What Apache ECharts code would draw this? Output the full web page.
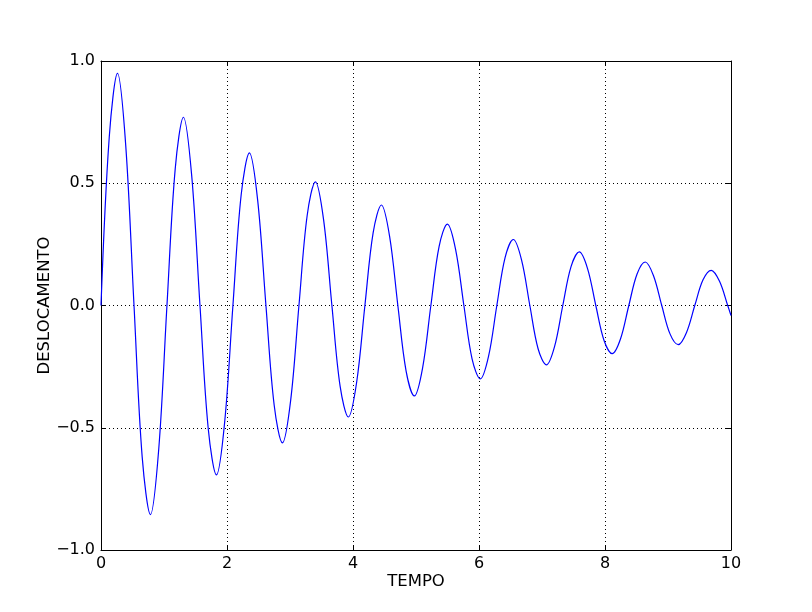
<!DOCTYPE html>
<html>
<head>
<meta charset="utf-8">
<script src="https://cdn.jsdelivr.net/npm/echarts@6/dist/echarts.min.js"></script>
<style>html,body{margin:0;padding:0;background:#fff}#c{width:812px;height:612px}</style>
</head>
<body>
<div id="c"></div>
<script>
// values (time, displacement)
const tempo = [0,0.131,0.262,0.393,0.524,0.654,0.785,0.916,1.047,1.178,1.309,1.440,1.571,1.702,1.833,1.963,2.094,2.225,2.356,2.487,2.618,2.749,2.880,3.011,3.142,3.272,3.403,3.534,3.665,3.796,3.927,4.058,4.189,4.320,4.451,4.581,4.712,4.843,4.974,5.105,5.236,5.367,5.498,5.629,5.760,5.890,6.021,6.152,6.283,6.414,6.545,6.676,6.807,6.938,7.069,7.199,7.330,7.461,7.592,7.723,7.854,7.985,8.116,8.247,8.378,8.509,8.639,8.770,8.901,9.032,9.163,9.294,9.425,9.556,9.687,9.818,9.948,10];
const deslocamento = [0,0.689,0.949,0.653,0,-0.620,-0.855,-0.589,0,0.559,0.770,0.530,0,-0.503,-0.693,-0.477,0,0.453,0.624,0.430,0,-0.408,-0.562,-0.387,0,0.367,0.506,0.349,0,-0.331,-0.456,-0.314,0,0.298,0.411,0.283,0,-0.268,-0.370,-0.255,0,0.242,0.333,0.229,0,-0.218,-0.300,-0.207,0,0.196,0.270,0.186,0,-0.177,-0.243,-0.168,0,0.159,0.219,0.151,0,-0.143,-0.197,-0.136,0,0.129,0.178,0.122,0,-0.116,-0.160,-0.110,0,0.105,0.144,0.099,0,-0.041];
const xTicks = [0,2,4,6,8,10];
const yTicks = [-1.0,-0.5,0.0,0.5,1.0];

const data = tempo.map((t,i)=>[t,deslocamento[i]]);
const font = 'DejaVu Sans';
const fmtY = v => (v<0?'\u2212':'') + Math.abs(v).toFixed(1);
const gridLine = {show:true,lineStyle:{color:'#000',type:[1,3],width:1}};
const chart = echarts.init(document.getElementById('c'),null,{renderer:'canvas'});
chart.setOption({
  animation:false,
  backgroundColor:'#fff',
  grid:{left:101,right:81,top:61,bottom:62,containLabel:false},
  xAxis:[
    {type:'value',min:xTicks[0],max:xTicks[xTicks.length-1],interval:2,position:'bottom',
     name:'TEMPO',nameLocation:'middle',nameGap:23,nameMoveOverlap:false,nameTextStyle:{fontFamily:font,fontSize:16.5,color:'#000'},
     axisLine:{show:true,onZero:false,lineStyle:{color:'#000',width:1}},
     axisTick:{show:true,inside:true,length:5,lineStyle:{color:'#000'}},
     axisLabel:{fontFamily:font,fontSize:16,color:'#000',margin:6,formatter:v=>String(v)},
     splitLine:gridLine},
    {type:'value',min:0,max:10,interval:2,position:'top',
     axisLine:{show:true,onZero:false,lineStyle:{color:'#000',width:1}},
     axisTick:{show:true,inside:true,length:5,lineStyle:{color:'#000'}},
     axisLabel:{show:false},splitLine:{show:false}}
  ],
  yAxis:[
    {type:'value',min:yTicks[0],max:yTicks[yTicks.length-1],interval:0.5,position:'left',
     name:'DESLOCAMENTO',nameLocation:'middle',nameGap:48,nameMoveOverlap:false,nameRotate:90,nameTextStyle:{fontFamily:font,fontSize:16.5,color:'#000'},
     axisLine:{show:true,onZero:false,lineStyle:{color:'#000',width:1}},
     axisTick:{show:true,inside:true,length:5,lineStyle:{color:'#000'}},
     axisLabel:{fontFamily:font,fontSize:16,color:'#000',margin:6,formatter:fmtY},
     splitLine:gridLine},
    {type:'value',min:-1,max:1,interval:0.5,position:'right',
     axisLine:{show:true,onZero:false,lineStyle:{color:'#000',width:1}},
     axisTick:{show:true,inside:true,length:5,lineStyle:{color:'#000'}},
     axisLabel:{show:false},splitLine:{show:false}}
  ],
  series:[{type:'line',data:data,smooth:0.35,showSymbol:false,symbol:'none',
    lineStyle:{color:'#0000ff',width:1.2},xAxisIndex:0,yAxisIndex:0}]
});
</script>
</body>
</html>
